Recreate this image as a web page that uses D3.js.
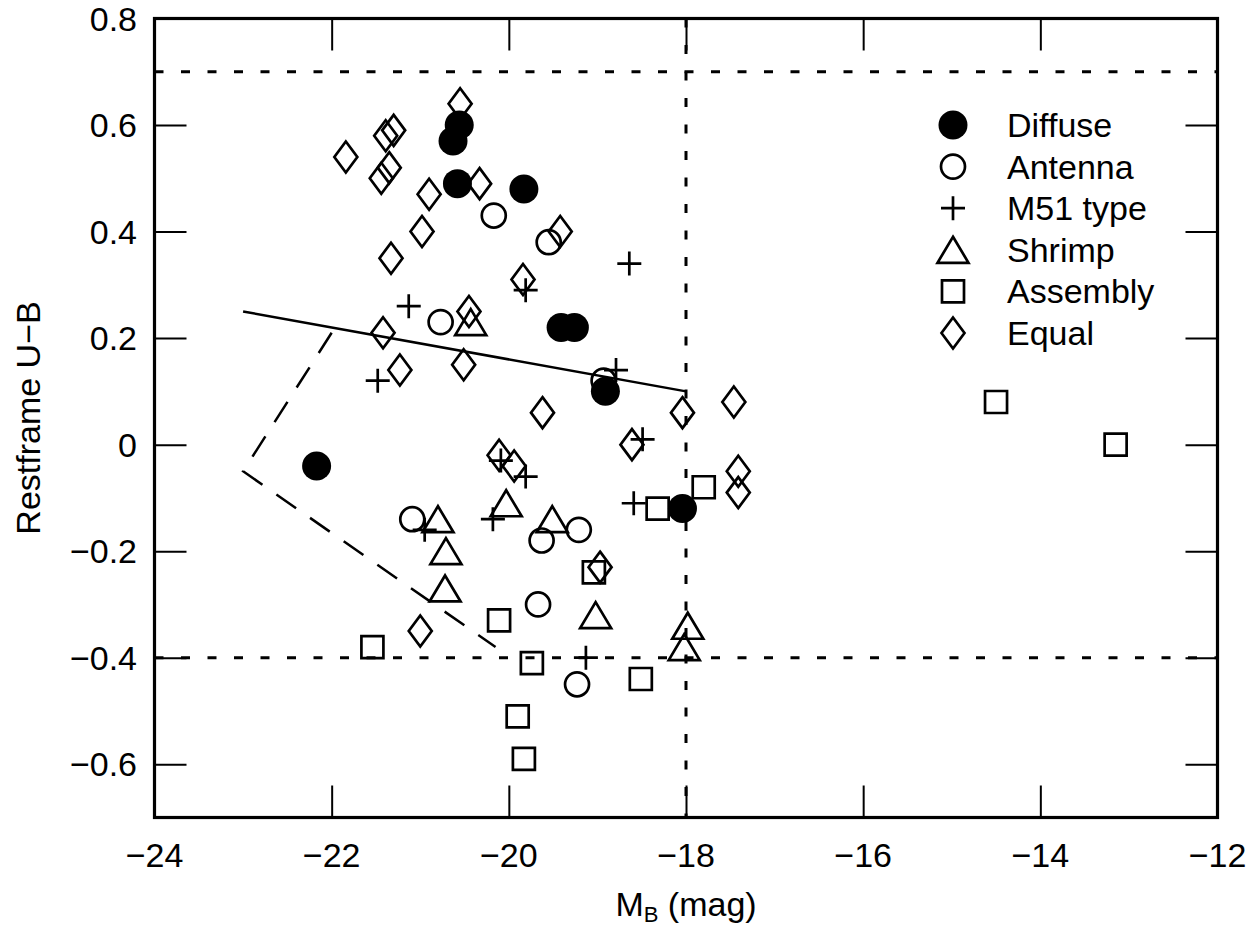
<!DOCTYPE html>
<html>
<head>
<meta charset="utf-8">
<script src="https://cdn.jsdelivr.net/npm/d3@7"></script>
<style>
  body { margin: 0; background: #fff; }
  text { font-family: "Liberation Sans", Arial, sans-serif; fill: #000; }
</style>
</head>
<body>
<div id="chart-area"></div>
<script>

// [M_B, U-B] pairs
const diffuse = [
  [-20.56, 0.60], [-20.63, 0.57], [-20.58, 0.49], [-19.83, 0.48],
  [-19.41, 0.22], [-19.26, 0.22], [-18.91, 0.10], [-22.17, -0.04],
  [-18.04, -0.12]
];
const antenna = [
  [-20.17, 0.43], [-19.55, 0.38], [-20.77, 0.23], [-18.93, 0.12],
  [-21.09, -0.14], [-19.21, -0.16], [-19.63, -0.18], [-19.67, -0.30],
  [-19.23, -0.45]
];
const m51 = [
  [-18.64, 0.34], [-19.81, 0.29], [-21.13, 0.26], [-21.48, 0.12],
  [-18.79, 0.14], [-18.49, 0.01], [-20.09, -0.03], [-19.81, -0.06],
  [-20.95, -0.16], [-20.18, -0.14], [-18.59, -0.11], [-19.13, -0.40]
];
const shrimp = [
  [-20.43, 0.23], [-20.80, -0.14], [-20.71, -0.20], [-20.72, -0.27],
  [-20.03, -0.11], [-19.51, -0.14], [-19.02, -0.32], [-17.98, -0.34],
  [-18.02, -0.38]
];
const assembly = [
  [-21.54, -0.38], [-19.04, -0.24], [-20.11, -0.33], [-19.74, -0.41],
  [-18.51, -0.44], [-19.90, -0.51], [-19.83, -0.59], [-18.32, -0.12],
  [-17.80, -0.08], [-14.50, 0.08], [-13.15, 0.00]
];
const equal = [
  [-20.55, 0.64], [-21.84, 0.54], [-21.30, 0.59], [-21.39, 0.58],
  [-21.35, 0.52], [-21.44, 0.50], [-20.90, 0.47], [-20.33, 0.49],
  [-20.98, 0.40], [-21.33, 0.35], [-19.42, 0.40], [-19.84, 0.31],
  [-20.45, 0.25], [-21.42, 0.21], [-21.23, 0.14], [-20.51, 0.15],
  [-19.62, 0.06], [-18.61, 0.00], [-20.11, -0.02], [-19.94, -0.04],
  [-18.04, 0.06], [-17.46, 0.08], [-17.41, -0.05], [-17.41, -0.09],
  [-18.97, -0.23], [-21.00, -0.35]
];

const fitLine = [[-23, 0.25], [-18, 0.10]];
const selectionBox = [[-22, 0.21], [-23, -0.05], [-20.15, -0.38]];
const limitsY = [0.7, -0.4];
const limitsX = [-18];

const xTicks = [-24, -22, -20, -18, -16, -14, -12];
const yTicks = [-0.6, -0.4, -0.2, 0, 0.2, 0.4, 0.6, 0.8];
const legendNames = ['Diffuse', 'Antenna', 'M51 type', 'Shrimp', 'Assembly', 'Equal'];

(() => {

  const width = 1256;
  const height = 930;
  const plot = { left: 154.5, right: 1217.5, top: 18.5, bottom: 817.5 };

  const x = d3.scaleLinear().domain([-24, -12]).range([plot.left, plot.right]);
  const y = d3.scaleLinear().domain([-0.7, 0.8]).range([plot.bottom, plot.top]);

  const fmt = v => {
    let s = Math.abs(v) < 1e-9 ? '0' : (Number.isInteger(v) ? String(v) : v.toFixed(1));
    return s.replace('-', '\u2212');
  };

  const shapes = {
    filled: 'M14.5,0A14.5,14.5 0 1,1 -14.5,0A14.5,14.5 0 1,1 14.5,0Z',
    circle: 'M12,0A12,12 0 1,1 -12,0A12,12 0 1,1 12,0Z',
    plus: 'M-12,0H12M0,-12V12',
    triangle: 'M0,-13L15.5,13H-15.5Z',
    square: 'M-11,-11H11V11H-11Z',
    diamond: 'M0,-15.5L11.5,0L0,15.5L-11.5,0Z'
  };

  const series = [
    { name: legendNames[1], data: antenna, shape: 'circle' },
    { name: legendNames[2], data: m51, shape: 'plus' },
    { name: legendNames[3], data: shrimp, shape: 'triangle' },
    { name: legendNames[4], data: assembly, shape: 'square' },
    { name: legendNames[5], data: equal, shape: 'diamond' },
    { name: legendNames[0], data: diffuse, shape: 'filled' }
  ];
  const shapeByName = {};
  series.forEach(s => { shapeByName[s.name] = s.shape; });

  const svg = d3.select('#chart-area').append('svg')
    .attr('width', width)
    .attr('height', height);

  svg.append('rect')
    .attr('width', width)
    .attr('height', height)
    .attr('fill', '#fff');

  // inward ticks on all four sides
  const axisB = d3.axisBottom(x).tickValues(xTicks).tickSize(-32).tickFormat('');
  const axisT = d3.axisTop(x).tickValues(xTicks).tickSize(-32).tickFormat('');
  const axisL = d3.axisLeft(y).tickValues(yTicks).tickSize(-32).tickFormat('');
  const axisR = d3.axisRight(y).tickValues(yTicks).tickSize(-32).tickFormat('');

  const drawAxis = (axis, tr) => {
    const g = svg.append('g').attr('transform', tr).call(axis);
    g.select('.domain').remove();
    g.selectAll('line').attr('stroke', '#000').attr('stroke-width', 2);
  };
  drawAxis(axisB, `translate(0,${plot.bottom})`);
  drawAxis(axisT, `translate(0,${plot.top})`);
  drawAxis(axisL, `translate(${plot.left},0)`);
  drawAxis(axisR, `translate(${plot.right},0)`);

  // tick labels
  svg.append('g').selectAll('text')
    .data(xTicks)
    .enter().append('text')
      .attr('x', d => x(d))
      .attr('y', 867)
      .attr('text-anchor', 'middle')
      .attr('font-size', '34px')
      .text(fmt);

  svg.append('g').selectAll('text')
    .data(yTicks)
    .enter().append('text')
      .attr('x', 137)
      .attr('y', d => y(d) + 12)
      .attr('text-anchor', 'end')
      .attr('font-size', '34px')
      .text(fmt);

  // axis titles
  const xl = svg.append('text')
    .attr('x', (plot.left + plot.right) / 2)
    .attr('y', 916)
    .attr('text-anchor', 'middle')
    .attr('font-size', '34px');
  xl.append('tspan').text('M');
  xl.append('tspan').attr('font-size', '22px').attr('dy', 6).text('B');
  xl.append('tspan').attr('dy', -6).text(' (mag)');

  svg.append('text')
    .attr('transform', `translate(40,${(plot.top + plot.bottom) / 2}) rotate(-90)`)
    .attr('text-anchor', 'middle')
    .attr('font-size', '34px')
    .text('Restframe U\u2212B');

  // dotted limits
  svg.append('g').selectAll('line')
    .data(limitsY)
    .enter().append('line')
      .attr('x1', plot.left)
      .attr('x2', plot.right)
      .attr('y1', d => y(d))
      .attr('y2', d => y(d))
      .attr('stroke', '#000')
      .attr('stroke-width', 3)
      .attr('stroke-dasharray', '9,17.5');

  svg.append('g').selectAll('line')
    .data(limitsX)
    .enter().append('line')
      .attr('x1', d => x(d))
      .attr('x2', d => x(d))
      .attr('y1', plot.top)
      .attr('y2', plot.bottom)
      .attr('stroke', '#000')
      .attr('stroke-width', 3)
      .attr('stroke-dasharray', '9,17.5');

  const line = d3.line().x(d => x(d[0])).y(d => y(d[1]));

  svg.append('path')
    .attr('d', line(fitLine))
    .attr('fill', 'none')
    .attr('stroke', '#000')
    .attr('stroke-width', 2.5);

  svg.append('path')
    .attr('d', line(selectionBox))
    .attr('fill', 'none')
    .attr('stroke', '#000')
    .attr('stroke-width', 2.5)
    .attr('stroke-dasharray', '24,17');

  // markers
  series.forEach(s => {
    const filled = s.shape === 'filled';
    svg.append('g').selectAll('path')
      .data(s.data)
      .enter().append('path')
        .attr('transform', d => `translate(${x(d[0])},${y(d[1])})`)
        .attr('d', shapes[s.shape])
        .attr('fill', filled ? '#000' : 'none')
        .attr('stroke', '#000')
        .attr('stroke-width', filled ? 0 : 2.7)
        .attr('stroke-linejoin', 'miter');
  });

  // frame
  svg.append('rect')
    .attr('x', plot.left)
    .attr('y', plot.top)
    .attr('width', plot.right - plot.left)
    .attr('height', plot.bottom - plot.top)
    .attr('fill', 'none')
    .attr('stroke', '#000')
    .attr('stroke-width', 3.2);

  // legend
  const legend = svg.append('g').selectAll('g')
    .data(legendNames)
    .enter().append('g')
      .attr('transform', (d, i) => `translate(953,${125 + i * 41.6})`);

  legend.append('path')
    .attr('d', d => shapes[shapeByName[d]])
    .attr('fill', d => shapeByName[d] === 'filled' ? '#000' : 'none')
    .attr('stroke', '#000')
    .attr('stroke-width', d => shapeByName[d] === 'filled' ? 0 : 2.7);

  legend.append('text')
    .attr('x', 54)
    .attr('y', 12)
    .attr('font-size', '34px')
    .text(d => d);

})();
</script>
</body>
</html>
